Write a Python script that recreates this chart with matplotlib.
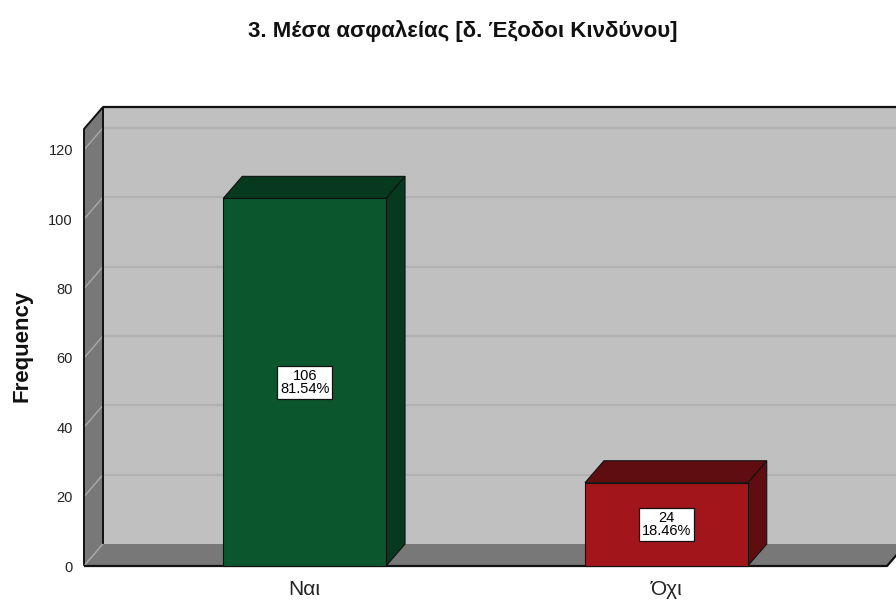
"""
3D-style frequency bar chart (SPSS look) for a single yes/no question.
Saves: out.png
"""

import matplotlib
matplotlib.use("Agg")
import matplotlib.pyplot as plt
from matplotlib.patches import Polygon, Rectangle
from matplotlib.transforms import ScaledTranslation

plt.rcParams["font.family"] = ["Liberation Sans", "DejaVu Sans"]

TITLE = "3. Μέσα ασφαλείας [δ. Έξοδοι Κινδύνου]"
categories = ["Ναι", "Όχι"]
counts = [106, 24]
y_ticks = [0, 20, 40, 60, 80, 100, 120]

front_colors = ["#0c562e", "#a2161b"]
shade_colors = ["#07391e", "#5f0d10"]

# layout (pixels at dpi=100)
W, H = 896, 602
LEFT_PX, RIGHT_PX = 84, 887
BOTTOM_PX, TOP_PX = 566, 129
DEPTH_X, DEPTH_Y = 19, 22
YMAX = 126
XLIM = (-0.61, 1.61)
BAR_W = 0.45

WALL = "#c0c0c0"
SIDE = "#787878"
GRID_BACK = "#b1b1b1"
GRID_SIDE = "#a9a9a9"
EDGE = "#111111"


def main():
    fig = plt.figure(figsize=(W / 100, H / 100), dpi=100)
    ax = fig.add_axes([LEFT_PX / W, (H - BOTTOM_PX) / H,
                       (RIGHT_PX - LEFT_PX) / W, (BOTTOM_PX - TOP_PX) / H])
    ax.set_xlim(*XLIM)
    ax.set_ylim(0, YMAX)
    for s in ax.spines.values():
        s.set_visible(False)
    ax.set_facecolor("none")

    # depth offset expressed in data units
    inv = ax.transData.inverted()
    p0 = ax.transData.transform((0, 0))
    ox, oy = inv.transform(p0 + (DEPTH_X, DEPTH_Y)) - inv.transform(p0)

    x0, x1 = XLIM

    def poly(pts, fc, z, ec="none", lw=0):
        ax.add_patch(Polygon(pts, closed=True, facecolor=fc, edgecolor=ec,
                             linewidth=lw, zorder=z, clip_on=False))

    def line(xs, ys, c, lw, z):
        ax.plot(xs, ys, color=c, linewidth=lw, zorder=z, clip_on=False,
                solid_capstyle="butt")

    # back wall
    ax.add_patch(Rectangle((x0 + ox, oy), (x1 - x0) + 1, YMAX, facecolor=WALL,
                           edgecolor="none", zorder=1, clip_on=False))
    for v in y_ticks[1:]:
        line([x0 + ox, x1 + 1], [v + oy, v + oy], GRID_BACK, 1.6, 2)
    line([x0 + ox, x1 + 1], [YMAX + oy, YMAX + oy], EDGE, 1.6, 2)

    # left wall
    poly([(x0, 0), (x0 + ox, oy), (x0 + ox, YMAX + oy), (x0, YMAX)], SIDE, 3)
    for v in y_ticks:
        line([x0, x0 + ox], [v, v + oy], GRID_SIDE, 1.0, 4)
    line([x0, x0, x0 + ox, x0 + ox], [0, YMAX, YMAX + oy, oy], EDGE, 1.4, 4)

    # floor
    poly([(x0, 0), (x0 + ox, oy), (x1 + ox, oy), (x1, 0)], SIDE, 5)
    line([x0 + ox, x0], [oy, 0], GRID_SIDE, 1.0, 5)
    line([x0, x1, x1 + ox], [0, 0, oy], EDGE, 1.6, 5)

    # bars
    total = sum(counts)
    for i, (cat, n) in enumerate(zip(categories, counts)):
        l, r = i - BAR_W / 2, i + BAR_W / 2
        poly([(r, 0), (r + ox, oy), (r + ox, n + oy), (r, n)],
             shade_colors[i], 6, EDGE, 0.8)
        poly([(l, n), (l + ox, n + oy), (r + ox, n + oy), (r, n)],
             shade_colors[i], 6, EDGE, 0.8)
        poly([(l, 0), (l, n), (r, n), (r, 0)], front_colors[i], 7, EDGE, 0.8)
        pct = n / total * 100
        ax.text(i, n / 2, f"{n}\n{pct:.2f}%", ha="center", va="center",
                fontsize=10.5, linespacing=0.92, zorder=9,
                bbox=dict(boxstyle="square,pad=0.2", facecolor="white",
                          edgecolor=EDGE, linewidth=0.9))

    ax.set_yticks(y_ticks)
    ax.set_yticklabels([str(t) for t in y_ticks], fontsize=10.5, color="#222222")
    # tick labels sit a little below their gridlines
    shift = ScaledTranslation(0, -3 / 100, fig.dpi_scale_trans)
    for lab in ax.get_yticklabels():
        lab.set_transform(lab.get_transform() + shift)
    ax.set_xticks(range(len(categories)))
    ax.set_xticklabels(categories, fontsize=15, color="#222222")
    ax.tick_params(axis="y", length=0, pad=8)
    ax.tick_params(axis="x", length=0, pad=10)

    fig.text(463 / W, 1 - 31 / H, TITLE, ha="center", va="center",
             fontsize=16, fontweight="bold", color="#111111")
    fig.text(22 / W, 1 - 346 / H, "Frequency", ha="center", va="center",
             rotation=90, fontsize=16, fontweight="bold", color="#111111")

    fig.savefig("out.png", dpi=100)
    plt.close(fig)


if __name__ == "__main__":
    main()
